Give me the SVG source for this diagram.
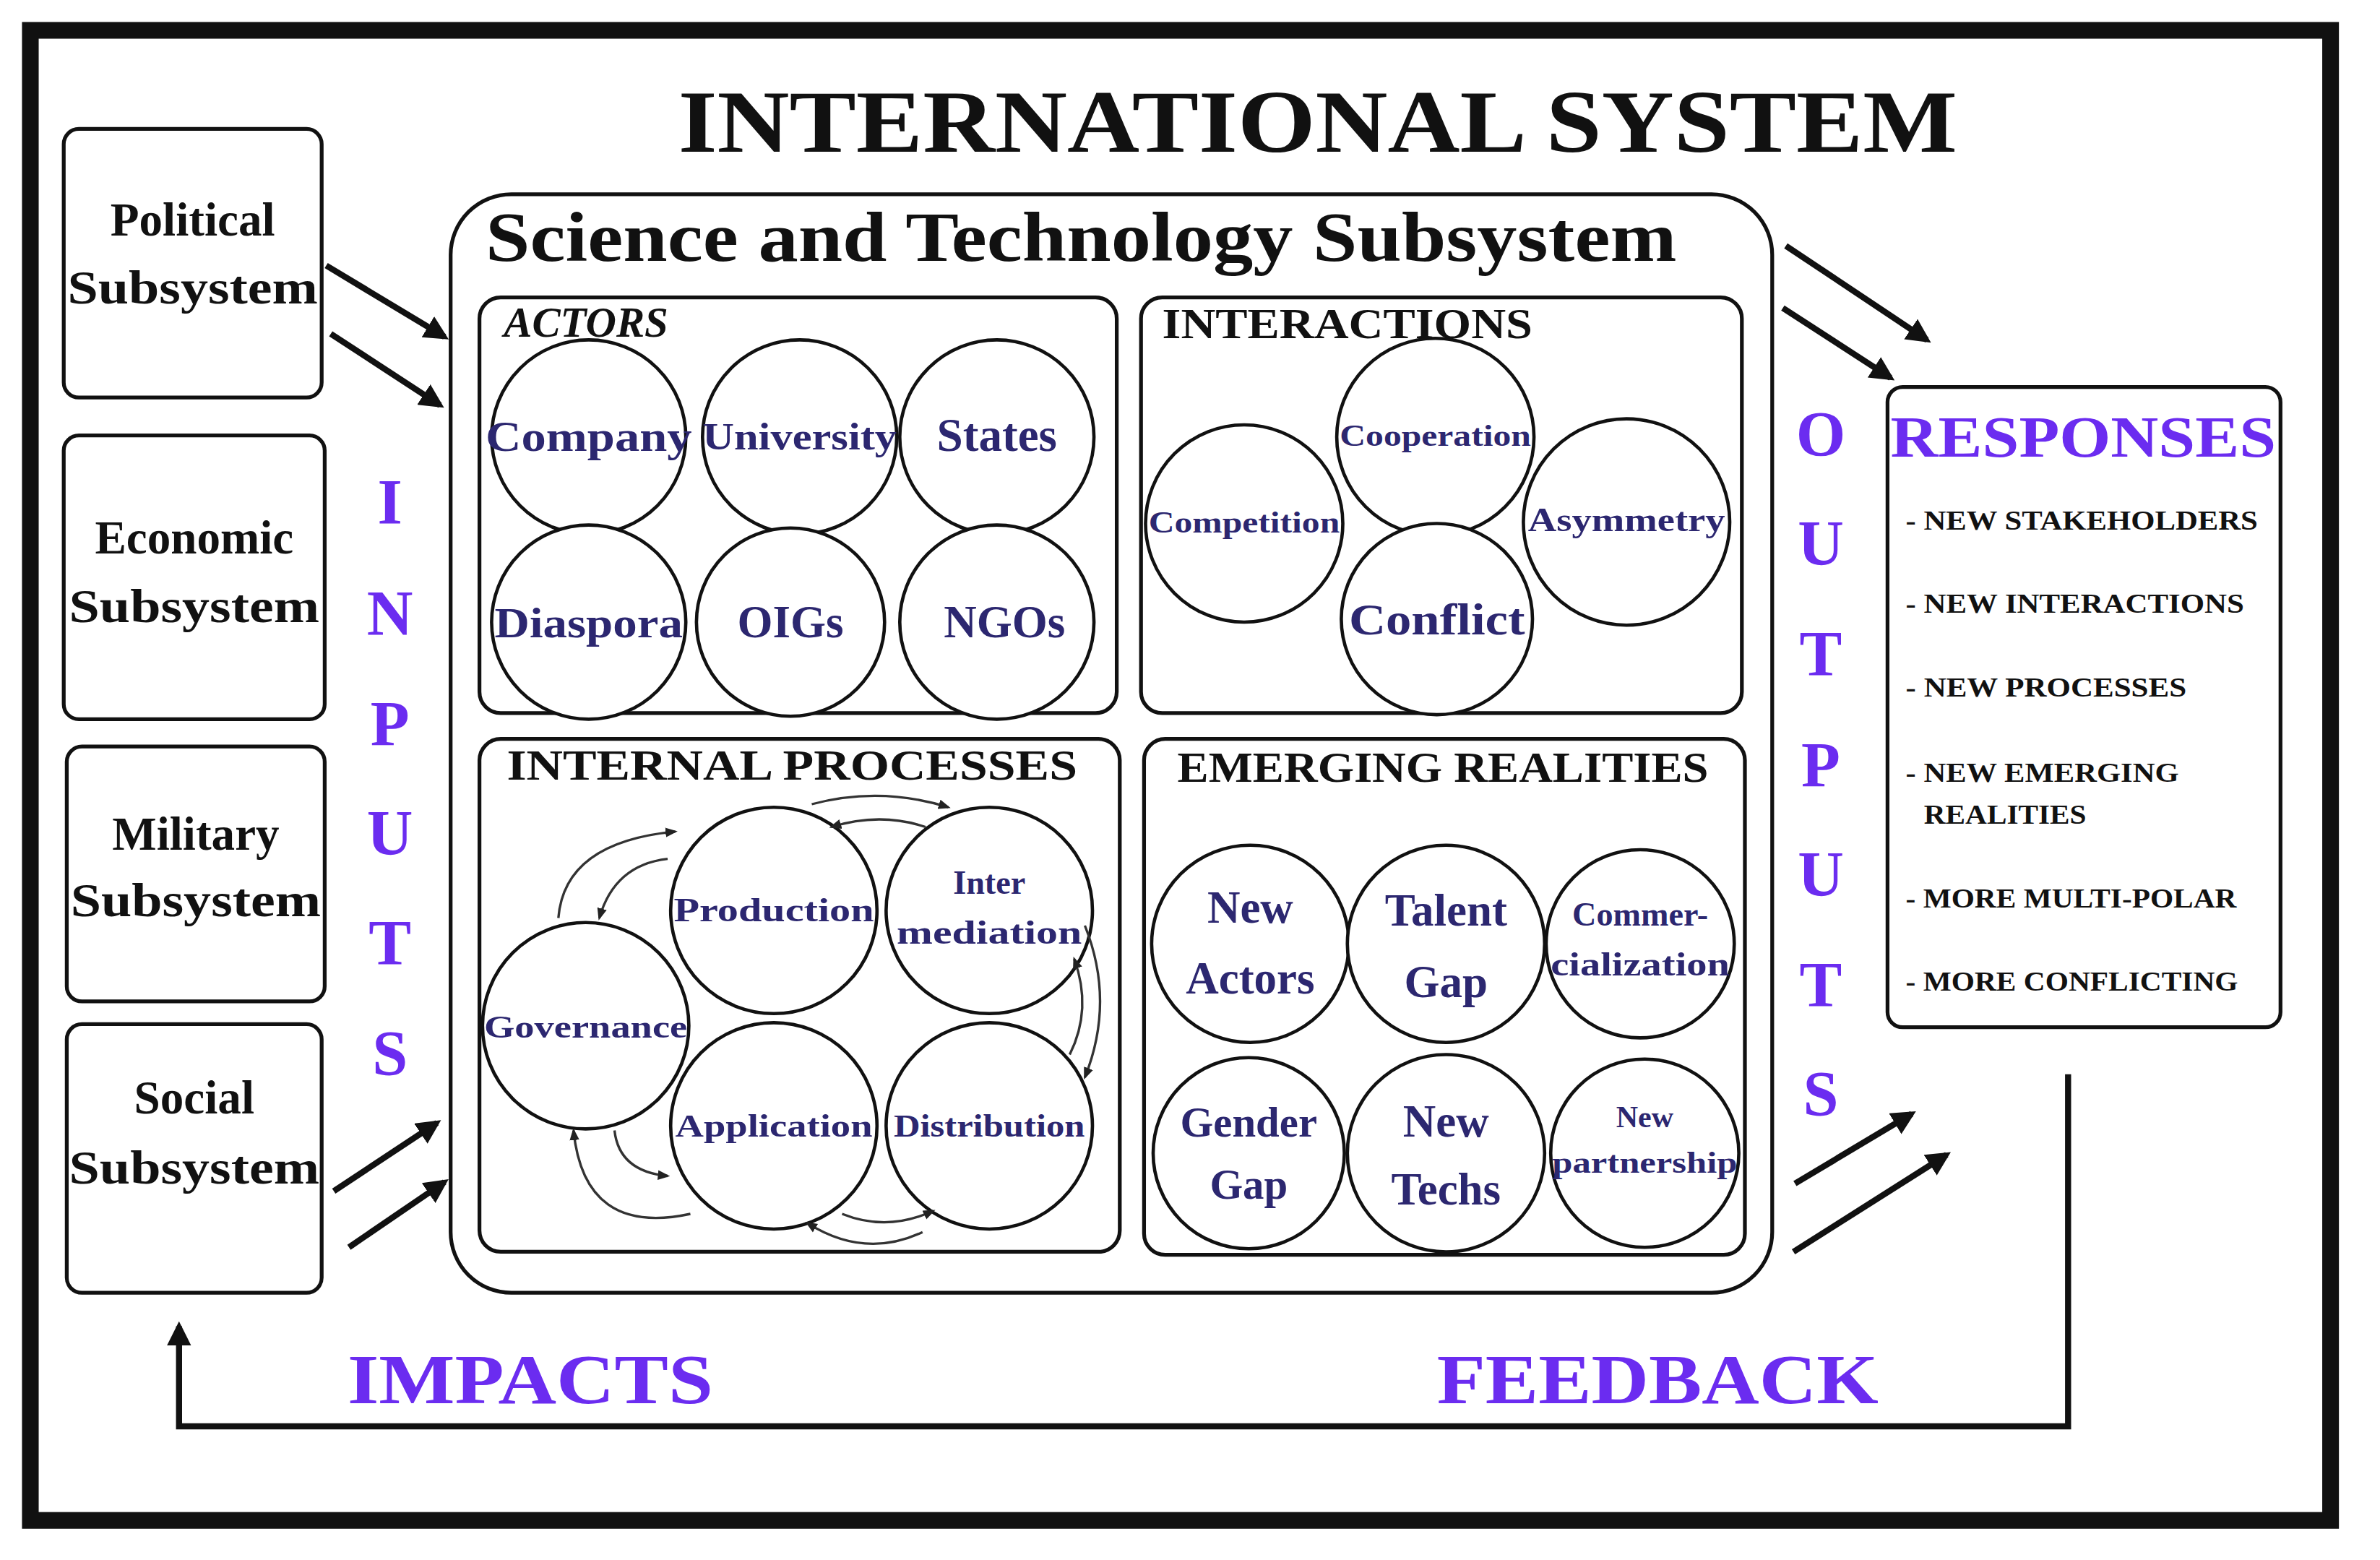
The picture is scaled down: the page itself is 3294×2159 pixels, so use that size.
<svg xmlns="http://www.w3.org/2000/svg" width="3294" height="2159" viewBox="0 0 3294 2159">
<defs>
<marker id="ah" viewBox="0 0 10 10" refX="8" refY="5" markerWidth="4" markerHeight="4" orient="auto-start-reverse"><path d="M0,0 L10,5 L0,10 z" fill="#111"/></marker>
<marker id="sh" viewBox="0 0 10 10" refX="8" refY="5" markerWidth="5" markerHeight="5" orient="auto"><path d="M0,1 L10,5 L0,9 z" fill="#222"/></marker>
</defs>
<style>
text{font-family:"Liberation Serif",serif;font-weight:bold}
.box{fill:#fff;stroke:#111;stroke-width:2.5}
.c{fill:#fff;stroke:#111;stroke-width:2.2}
.n{fill:#2c2770;text-anchor:middle}
.p{fill:#6b2cf0;text-anchor:middle}
.k{fill:#111}
.ar{stroke:#111;stroke-width:4;fill:none;marker-end:url(#ah)}
.cy{stroke:#333;stroke-width:1.6;fill:none;marker-end:url(#sh)}
</style>
<rect width="3294" height="2159" fill="#fff"/>
<g transform="scale(2.1)">
<rect x="24" y="24" width="1516" height="982" fill="#bbb" opacity="0.5"/>
<rect x="20" y="20" width="1516" height="982" fill="#fff" stroke="#111" stroke-width="11"/>
<text x="447" y="100" font-size="58" class="k" textLength="843" lengthAdjust="spacingAndGlyphs">INTERNATIONAL SYSTEM</text>

<g id="political"><rect class="box" x="42" y="85" width="170" height="177" rx="10"/><text class="k" x="127" y="155" text-anchor="middle" font-size="31">Political</text><text class="k" x="127" y="200" text-anchor="middle" font-size="31" textLength="165" lengthAdjust="spacingAndGlyphs">Subsystem</text></g>
<g id="economic"><rect class="box" x="42" y="287" width="172" height="187" rx="10"/><text class="k" x="128" y="365" text-anchor="middle" font-size="31">Economic</text><text class="k" x="128" y="410" text-anchor="middle" font-size="31" textLength="165" lengthAdjust="spacingAndGlyphs">Subsystem</text></g>
<g id="military"><rect class="box" x="44" y="492" width="170" height="168" rx="10"/><text class="k" x="129" y="560" text-anchor="middle" font-size="31">Military</text><text class="k" x="129" y="604" text-anchor="middle" font-size="31" textLength="165" lengthAdjust="spacingAndGlyphs">Subsystem</text></g>
<g id="social"><rect class="box" x="44" y="675" width="168" height="177" rx="10"/><text class="k" x="128" y="734" text-anchor="middle" font-size="31">Social</text><text class="k" x="128" y="780" text-anchor="middle" font-size="31" textLength="165" lengthAdjust="spacingAndGlyphs">Subsystem</text></g>

<g id="st"><rect class="box" x="297" y="128" width="871" height="724" rx="40" stroke-width="3.5"/><text class="k" x="320" y="172" font-size="46" textLength="785" lengthAdjust="spacingAndGlyphs">Science and Technology Subsystem</text></g>

<g id="actors"><rect class="box" x="316" y="196" width="420" height="274" rx="14"/><text class="k" x="332" y="222" font-size="28" font-style="italic">ACTORS</text>
<circle class="c" cx="388" cy="288" r="64"/><text class="n" x="388" y="297" font-size="28" textLength="136" lengthAdjust="spacingAndGlyphs">Company</text>
<circle class="c" cx="527" cy="288" r="64"/><text class="n" x="527" y="296" font-size="25" textLength="128" lengthAdjust="spacingAndGlyphs">University</text>
<circle class="c" cx="657" cy="288" r="64"/><text class="n" x="657" y="297" font-size="31">States</text>
<circle class="c" cx="388" cy="410" r="64"/><text class="n" x="388" y="420" font-size="28" textLength="124" lengthAdjust="spacingAndGlyphs">Diaspora</text>
<circle class="c" cx="521" cy="410" r="62"/><text class="n" x="521" y="420" font-size="30">OIGs</text>
<circle class="c" cx="657" cy="410" r="64"/><text class="n" x="662" y="420" font-size="30">NGOs</text></g>

<g id="interactions"><rect class="box" x="752" y="196" width="396" height="274" rx="14"/><text class="k" x="766" y="223" font-size="28" textLength="244" lengthAdjust="spacingAndGlyphs">INTERACTIONS</text>
<circle class="c" cx="820" cy="345" r="65"/><text class="n" x="820" y="351" font-size="20" textLength="126" lengthAdjust="spacingAndGlyphs">Competition</text>
<circle class="c" cx="946" cy="288" r="65"/><text class="n" x="946" y="294" font-size="20" textLength="126" lengthAdjust="spacingAndGlyphs">Cooperation</text>
<circle class="c" cx="1072" cy="344" r="68"/><text class="n" x="1072" y="350" font-size="22" textLength="130" lengthAdjust="spacingAndGlyphs">Asymmetry</text>
<circle class="c" cx="947" cy="408" r="63"/><text class="n" x="947" y="418" font-size="29" textLength="116" lengthAdjust="spacingAndGlyphs">Conflict</text></g>

<g id="processes"><rect class="box" x="316" y="487" width="422" height="338" rx="14"/><text class="k" x="334" y="514" font-size="28" textLength="376" lengthAdjust="spacingAndGlyphs">INTERNAL PROCESSES</text>
<circle class="c" cx="510" cy="600" r="68"/><text class="n" x="510" y="607" font-size="22" textLength="132" lengthAdjust="spacingAndGlyphs">Production</text>
<circle class="c" cx="652" cy="600" r="68"/><text class="n" x="652" y="589" font-size="22">Inter</text><text class="n" x="652" y="622" font-size="22" textLength="122" lengthAdjust="spacingAndGlyphs">mediation</text>
<circle class="c" cx="386" cy="676" r="68"/><text class="n" x="386" y="684" font-size="21" textLength="134" lengthAdjust="spacingAndGlyphs">Governance</text>
<circle class="c" cx="510" cy="742" r="68"/><text class="n" x="510" y="749" font-size="21" textLength="130" lengthAdjust="spacingAndGlyphs">Application</text>
<circle class="c" cx="652" cy="742" r="68"/><text class="n" x="652" y="749" font-size="21" textLength="126" lengthAdjust="spacingAndGlyphs">Distribution</text>
<path class="cy" d="M368,605 Q372,555 445,548"/>
<path class="cy" d="M440,566 Q405,570 395,605"/>
<path class="cy" d="M535,530 Q580,518 625,532"/>
<path class="cy" d="M610,545 Q580,535 548,545"/>
<path class="cy" d="M715,610 Q735,660 715,710"/>
<path class="cy" d="M705,695 Q720,665 708,632"/>
<path class="cy" d="M608,812 Q570,830 532,806"/>
<path class="cy" d="M555,800 Q585,812 615,798"/>
<path class="cy" d="M455,800 Q385,815 378,745"/>
<path class="cy" d="M405,745 Q408,772 440,775"/></g>

<g id="emerging"><rect class="box" x="754" y="487" width="396" height="340" rx="14"/><text class="k" x="776" y="515" font-size="28" textLength="350" lengthAdjust="spacingAndGlyphs">EMERGING REALITIES</text>
<circle class="c" cx="824" cy="622" r="65"/><text class="n" x="824" y="608" font-size="30">New</text><text class="n" x="824" y="655" font-size="30">Actors</text>
<circle class="c" cx="953" cy="622" r="65"/><text class="n" x="953" y="610" font-size="30">Talent</text><text class="n" x="953" y="657" font-size="30">Gap</text>
<circle class="c" cx="1081" cy="622" r="62"/><text class="n" x="1081" y="610" font-size="22">Commer-</text><text class="n" x="1081" y="643" font-size="22" textLength="118" lengthAdjust="spacingAndGlyphs">cialization</text>
<circle class="c" cx="823" cy="760" r="63"/><text class="n" x="823" y="749" font-size="28">Gender</text><text class="n" x="823" y="790" font-size="28">Gap</text>
<circle class="c" cx="953" cy="760" r="65"/><text class="n" x="953" y="749" font-size="30">New</text><text class="n" x="953" y="794" font-size="30">Techs</text>
<circle class="c" cx="1084" cy="760" r="62"/><text class="n" x="1084" y="743" font-size="20">New</text><text class="n" x="1084" y="773" font-size="20" textLength="122" lengthAdjust="spacingAndGlyphs">partnership</text></g>

<g id="inputs" font-size="42"><text class="p" x="257" y="345">I</text><text class="p" x="257" y="418">N</text><text class="p" x="257" y="491">P</text><text class="p" x="257" y="563">U</text><text class="p" x="257" y="635">T</text><text class="p" x="257" y="708">S</text></g>
<g id="outputs" font-size="42"><text class="p" x="1200" y="300">O</text><text class="p" x="1200" y="372">U</text><text class="p" x="1200" y="445">T</text><text class="p" x="1200" y="518">P</text><text class="p" x="1200" y="590">U</text><text class="p" x="1200" y="663">T</text><text class="p" x="1200" y="735">S</text></g>

<g id="responses"><rect class="box" x="1244" y="255" width="259" height="422" rx="10" stroke-width="3"/>
<text class="p" x="1373" y="301" font-size="38" textLength="254" lengthAdjust="spacingAndGlyphs">RESPONSES</text>
<g font-size="18" class="k"><text x="1256" y="349" textLength="232" lengthAdjust="spacingAndGlyphs">- NEW STAKEHOLDERS</text><text x="1256" y="404" textLength="223" lengthAdjust="spacingAndGlyphs">- NEW INTERACTIONS</text><text x="1256" y="459" textLength="185" lengthAdjust="spacingAndGlyphs">- NEW PROCESSES</text><text x="1256" y="515" textLength="180" lengthAdjust="spacingAndGlyphs">- NEW EMERGING</text><text x="1268" y="543" textLength="107" lengthAdjust="spacingAndGlyphs">REALITIES</text><text x="1256" y="598" textLength="218" lengthAdjust="spacingAndGlyphs">- MORE MULTI-POLAR</text><text x="1256" y="653" textLength="219" lengthAdjust="spacingAndGlyphs">- MORE CONFLICTING</text></g></g>

<g id="labels"><text class="k" x="229" y="925" font-size="46" fill="#6b2cf0" style="fill:#6b2cf0" textLength="241" lengthAdjust="spacingAndGlyphs">IMPACTS</text><text x="947" y="925" font-size="46" style="fill:#6b2cf0" textLength="291" lengthAdjust="spacingAndGlyphs">FEEDBACK</text></g>

<g id="connectors">
<path class="ar" d="M215,175 L293,222"/>
<path class="ar" d="M218,220 L290,267"/>
<path class="ar" d="M220,785 L288,740"/>
<path class="ar" d="M230,822 L293,779"/>
<path class="ar" d="M1177,162 L1270,224"/>
<path class="ar" d="M1175,203 L1246,249"/>
<path class="ar" d="M1183,780 L1260,734"/>
<path class="ar" d="M1182,825 L1283,761"/>
<path class="ar" d="M1363,708 L1363,940 L118,940 L118,874"/>
</g>
</g>
</svg>
